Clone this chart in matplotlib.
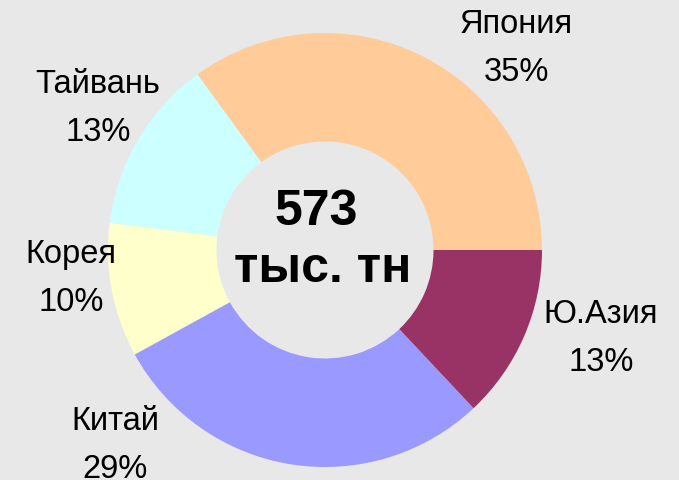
import matplotlib.pyplot as plt

plt.rcParams['font.family'] = ['Liberation Sans', 'DejaVu Sans']

regions = ["Япония", "Тайвань", "Корея", "Китай", "Ю.Азия"]
shares = [35, 13, 10, 29, 13]
colors = ["#FFCC99", "#CCFFFF", "#FFFFCC", "#9999FF", "#993366"]
total_text = ["573", "тыс. тн"]

# label anchor points in pixels (x center, baseline of first line), y from top
label_pos = [(516, 33), (98, 93), (71, 263), (115, 430), (601, 323)]

W, H = 679, 480
bg = "#E8E8E8"

fig = plt.figure(figsize=(W / 100, H / 100), dpi=100, facecolor=bg)
ax = fig.add_axes([0, 0, 1, 1])
ax.set_facecolor(bg)

cx, cy, r = 325, H - 250, 217
ax.pie(shares, colors=colors, startangle=0, counterclock=True,
       center=(cx, cy), radius=r,
       wedgeprops=dict(width=r * 0.5, linewidth=0))

ax.set_aspect('equal')
ax.set_xlim(0, W)
ax.set_ylim(0, H)
ax.axis('off')

for name, pct, (x, y) in zip(regions, shares, label_pos):
    ax.text(x, H - y, name, ha='center', va='baseline', fontsize=23.5, color='black')
    ax.text(x, H - y - 48, f"{pct}%", ha='center', va='baseline', fontsize=23.5, color='black')

ax.text(316, H - 225, total_text[0], ha='center', va='baseline',
        fontsize=36, fontweight='bold')
ax.text(323, H - 282, total_text[1], ha='center', va='baseline',
        fontsize=36, fontweight='bold')

fig.savefig("out.png", dpi=100, facecolor=bg)
